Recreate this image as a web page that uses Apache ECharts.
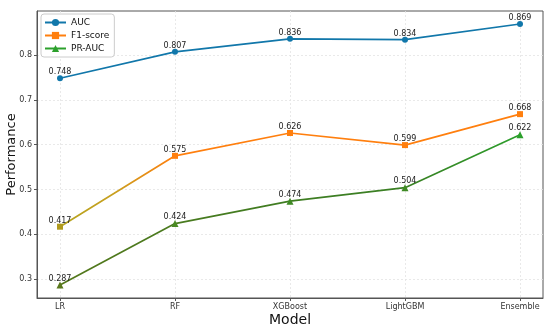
<!DOCTYPE html>
<html><head><meta charset="utf-8">
<script src="https://cdn.jsdelivr.net/npm/echarts@6/dist/echarts.min.js"></script>
<style>html,body{margin:0;padding:0;background:#fff}#c{width:550px;height:332px}</style>
</head><body><div id="c"></div>
<script>
const categories = ['LR', 'RF', 'XGBoost', 'LightGBM', 'Ensemble'];
const aucValues = [0.748, 0.807, 0.836, 0.834, 0.869];
const f1Values = [0.417, 0.575, 0.626, 0.599, 0.668];
const prAucValues = [0.287, 0.424, 0.474, 0.504, 0.622];
const yTicks = [0.3, 0.4, 0.5, 0.6, 0.7, 0.8];
const xTicks = [0, 1, 2, 3, 4];

const font = 'DejaVu Sans';
const chart = echarts.init(document.getElementById('c'), null, {renderer: 'canvas'});

function pairs(vals) { return vals.map((v, i) => [i, v]); }

const f1Grad = new echarts.graphic.LinearGradient(0, 0, 1, 0, [
  {offset: 0, color: '#b4a41e'}, {offset: 0.12, color: '#c8a020'}, {offset: 0.25, color: '#ff7f0e'}, {offset: 1, color: '#ff7f0e'}
]);
const prGrad = new echarts.graphic.LinearGradient(0, 0, 1, 0, [
  {offset: 0, color: '#55781c'}, {offset: 0.5, color: '#3f7d22'}, {offset: 0.75, color: '#3a8024'}, {offset: 1, color: '#2ca02c'}
]);
const f1Marker = ['#b09a1c', '#ff7f0e', '#ff7f0e', '#ff7f0e', '#ff7f0e'];
const prMarker = ['#5a781c', '#4a8a22', '#3f8a24', '#3f8a24', '#2ca02c'];

const labelCfg = {
  show: true, position: 'top', distance: -1,
  fontFamily: font, fontSize: 8, color: '#222',
  formatter: p => p.value[1].toFixed(3)
};

chart.setOption({
  animation: false,
  textStyle: {fontFamily: font},
  grid: {left: 37, right: 7, top: 11, bottom: 34, show: true, borderColor: '#555', borderWidth: 1, containLabel: false, outerBoundsMode: 'none'},
  legend: {
    orient: 'vertical', left: 41, top: 14,
    backgroundColor: '#fff', borderColor: '#ccc', borderWidth: 1, borderRadius: 3,
    padding: [4, 5, 4, 3], itemGap: 4, itemWidth: 21, itemHeight: 9,
    textStyle: {fontFamily: font, fontSize: 9, color: '#111'},
    data: [
      {name: 'AUC', itemStyle: {color: '#1177aa'}},
      {name: 'F1-score', itemStyle: {color: '#ff7f0e'}, lineStyle: {color: '#ff7f0e'}},
      {name: 'PR-AUC', itemStyle: {color: '#2ca02c'}, lineStyle: {color: '#2ca02c'}}
    ]
  },
  xAxis: {
    type: 'value', min: -0.2, max: 4.2,
    name: 'Model', nameLocation: 'middle', nameGap: 15, nameMoveOverlap: false,
    nameTextStyle: {fontFamily: font, fontSize: 14, color: '#111'},
    axisLine: {show: true, onZero: false, lineStyle: {color: '#555'}},
    axisTick: {show: true, length: 3, customValues: xTicks, lineStyle: {color: '#555'}},
    axisLabel: {customValues: xTicks, formatter: v => categories[Math.round(v)] || '', fontFamily: font, fontSize: 8, color: '#333', margin: 5},
    splitLine: {show: true, lineStyle: {color: '#e4e4e4', type: [2, 2], width: 0.8}}
  },
  yAxis: {
    type: 'value', min: 0.258, max: 0.898,
    name: 'Performance', nameLocation: 'middle', nameGap: 19, nameMoveOverlap: false,
    nameTextStyle: {fontFamily: font, fontSize: 13, color: '#111'},
    axisLine: {show: true, onZero: false, lineStyle: {color: '#555'}},
    axisTick: {show: true, length: 3, customValues: yTicks, lineStyle: {color: '#555'}},
    axisLabel: {customValues: yTicks, formatter: v => v.toFixed(1), fontFamily: font, fontSize: 8, color: '#333', margin: 5},
    splitLine: {show: true, lineStyle: {color: '#e4e4e4', type: [2, 2], width: 0.8}}
  },
  series: [
    {
      name: 'AUC', type: 'line', data: pairs(aucValues),
      symbol: 'circle', symbolSize: 6,
      lineStyle: {color: '#1177aa', width: 1.7},
      itemStyle: {color: '#1177aa'},
      label: labelCfg, z: 3
    },
    {
      name: 'F1-score', type: 'line', data: pairs(f1Values),
      symbol: 'rect', symbolSize: 6,
      lineStyle: {color: f1Grad, width: 1.7},
      itemStyle: {color: p => f1Marker[p.dataIndex]},
      label: labelCfg, z: 3
    },
    {
      name: 'PR-AUC', type: 'line', data: pairs(prAucValues),
      symbol: 'triangle', symbolSize: 7,
      lineStyle: {color: prGrad, width: 1.7},
      itemStyle: {color: p => prMarker[p.dataIndex]},
      label: labelCfg, z: 3
    }
  ]
});
</script></body></html>
